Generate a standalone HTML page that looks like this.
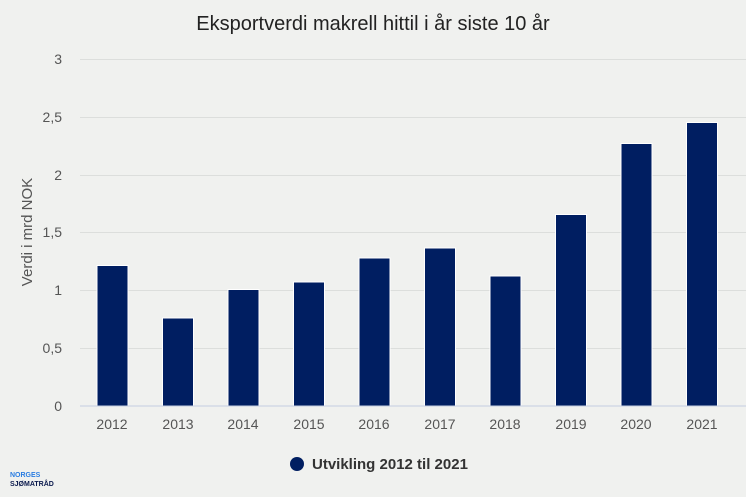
<!DOCTYPE html>
<html><head><meta charset="utf-8"><style>
html,body{margin:0;padding:0;background:#f0f1ef;}
svg{display:block;font-family:"Liberation Sans",sans-serif;}
</style></head><body>
<svg width="746" height="497" viewBox="0 0 746 497">
<rect width="746" height="497" fill="#f0f1ef"/>
<text x="373" y="30" text-anchor="middle" font-size="20" fill="#222">Eksportverdi makrell hittil i år siste 10 år</text>
<g stroke="#dcdedc" stroke-width="1">
<line x1="80" x2="746" y1="59.5" y2="59.5"/>
<line x1="80" x2="746" y1="117.5" y2="117.5"/>
<line x1="80" x2="746" y1="175.5" y2="175.5"/>
<line x1="80" x2="746" y1="232.5" y2="232.5"/>
<line x1="80" x2="746" y1="290.5" y2="290.5"/>
<line x1="80" x2="746" y1="348.5" y2="348.5"/>
</g>
<g font-size="14" fill="#555" text-anchor="end">
<text x="62" y="64">3</text><text x="62" y="122">2,5</text><text x="62" y="180">2</text>
<text x="62" y="237">1,5</text><text x="62" y="295">1</text><text x="62" y="353">0,5</text><text x="62" y="411">0</text>
</g>
<text transform="translate(32,232) rotate(-90)" text-anchor="middle" font-size="15" fill="#555">Verdi i mrd NOK</text>
<g fill="#001e61" stroke="#fff" stroke-width="1">
<rect x="97" y="265.5" width="31" height="140.5"/>
<rect x="162.5" y="318" width="31" height="88"/>
<rect x="228" y="289.5" width="31" height="116.5"/>
<rect x="293.5" y="282" width="31" height="124"/>
<rect x="359" y="258" width="31" height="148"/>
<rect x="424.5" y="248" width="31" height="158"/>
<rect x="490" y="276" width="31" height="130"/>
<rect x="555.5" y="214.5" width="31" height="191.5"/>
<rect x="621" y="143.5" width="31" height="262.5"/>
<rect x="686.5" y="122.5" width="31" height="283.5"/>
</g>
<line x1="80" x2="746" y1="406" y2="406" stroke="#c5cde0" stroke-width="1"/>
<g font-size="14" fill="#555" text-anchor="middle">
<text x="112" y="429">2012</text><text x="178" y="429">2013</text><text x="243" y="429">2014</text>
<text x="309" y="429">2015</text><text x="374" y="429">2016</text><text x="440" y="429">2017</text>
<text x="505" y="429">2018</text><text x="571" y="429">2019</text><text x="636" y="429">2020</text>
<text x="702" y="429">2021</text>
</g>
<circle cx="297" cy="464" r="7" fill="#001e61"/>
<text x="312" y="469" font-size="15" font-weight="bold" fill="#333">Utvikling 2012 til 2021</text>
<text x="10" y="477" font-size="7" font-weight="bold" fill="#2a7de1">NORGES</text>
<text x="10" y="486" font-size="7" font-weight="bold" fill="#0b1a4d">SJØMATRÅD</text>
</svg>
</body></html>
